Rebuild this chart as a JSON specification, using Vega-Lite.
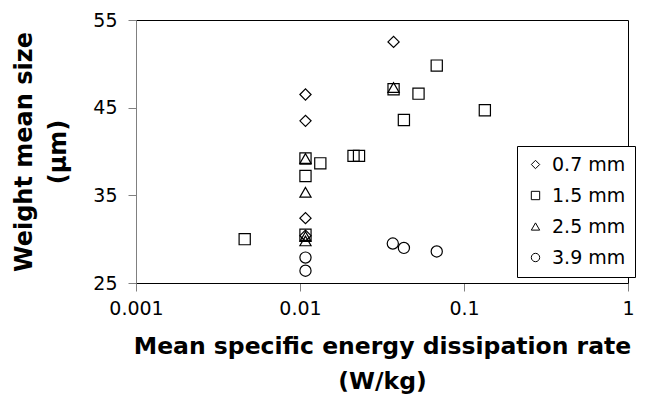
{
  "$schema": "https://vega.github.io/schema/vega-lite/v6.json",
  "width": 492,
  "height": 263,
  "autosize": "none",
  "padding": {"left": 136, "top": 20, "right": 23, "bottom": 118},
  "background": "white",
  "data": {
    "values": [
      {"rate": 0.0108, "size": 46.5, "particle": "0.7 mm"},
      {"rate": 0.0108, "size": 43.5, "particle": "0.7 mm"},
      {"rate": 0.0372, "size": 52.5, "particle": "0.7 mm"},
      {"rate": 0.0108, "size": 32.4, "particle": "0.7 mm"},
      {"rate": 0.0108, "size": 30.4, "particle": "0.7 mm"},
      {"rate": 0.0682, "size": 49.8, "particle": "1.5 mm"},
      {"rate": 0.0372, "size": 47.1, "particle": "1.5 mm"},
      {"rate": 0.0528, "size": 46.6, "particle": "1.5 mm"},
      {"rate": 0.043, "size": 43.6, "particle": "1.5 mm"},
      {"rate": 0.134, "size": 44.7, "particle": "1.5 mm"},
      {"rate": 0.0108, "size": 39.2, "particle": "1.5 mm"},
      {"rate": 0.0133, "size": 38.65, "particle": "1.5 mm"},
      {"rate": 0.0212, "size": 39.5, "particle": "1.5 mm"},
      {"rate": 0.0229, "size": 39.5, "particle": "1.5 mm"},
      {"rate": 0.0108, "size": 37.2, "particle": "1.5 mm"},
      {"rate": 0.0046, "size": 30.0, "particle": "1.5 mm"},
      {"rate": 0.0108, "size": 30.5, "particle": "1.5 mm"},
      {"rate": 0.0372, "size": 47.3, "particle": "2.5 mm"},
      {"rate": 0.0108, "size": 39.2, "particle": "2.5 mm"},
      {"rate": 0.0108, "size": 35.35, "particle": "2.5 mm"},
      {"rate": 0.0108, "size": 30.3, "particle": "2.5 mm"},
      {"rate": 0.0108, "size": 29.8, "particle": "2.5 mm"},
      {"rate": 0.0368, "size": 29.5, "particle": "3.9 mm"},
      {"rate": 0.043, "size": 29.0, "particle": "3.9 mm"},
      {"rate": 0.0682, "size": 28.6, "particle": "3.9 mm"},
      {"rate": 0.0108, "size": 27.9, "particle": "3.9 mm"},
      {"rate": 0.0108, "size": 26.4, "particle": "3.9 mm"}
    ]
  },
  "mark": {"type": "point", "filled": false, "stroke": "black", "strokeWidth": 1.2, "size": 125, "opacity": 1},
  "encoding": {
    "x": {
      "field": "rate",
      "type": "quantitative",
      "scale": {"type": "log", "domain": [0.001, 1]},
      "axis": {
        "values": [0.001, 0.01, 0.1, 1],
        "format": "~g",
        "title": ["Mean specific energy dissipation rate", "(W/kg)"],
        "domainColor": "black",
        "labelPadding": 8,
        "titlePadding": 16,
        "titleLineHeight": 35,
        "titleFontSize": 23.5
      }
    },
    "y": {
      "field": "size",
      "type": "quantitative",
      "scale": {"domain": [25, 55], "nice": false, "zero": false},
      "axis": {
        "values": [25, 35, 45, 55],
        "title": ["Weight mean size", "(µm)"],
        "domainColor": "#808080",
        "labelPadding": 11,
        "titlePadding": 22,
        "titleLineHeight": 34,
        "titleFontSize": 24
      }
    },
    "shape": {
      "field": "particle",
      "type": "nominal",
      "scale": {
        "domain": ["0.7 mm", "1.5 mm", "2.5 mm", "3.9 mm"],
        "range": ["diamond", "square", "triangle-up", "circle"]
      },
      "legend": {
        "title": null,
        "orient": "none",
        "legendX": 381,
        "legendY": 126
      }
    }
  },
  "config": {
    "font": "DejaVu Sans",
    "view": {"stroke": "black", "strokeWidth": 1},
    "axis": {
      "grid": false,
      "tickColor": "#808080",
      "tickSize": 8,
      "tickWidth": 1,
      "domainWidth": 1,
      "labelFont": "DejaVu Sans",
      "labelFontSize": 19,
      "labelColor": "black",
      "labelFlush": false,
      "labelOverlap": false,
      "titleFont": "DejaVu Sans",
      "titleFontWeight": "bold",
      "titleColor": "black"
    },
    "legend": {
      "strokeColor": "black",
      "fillColor": "white",
      "padding": 9,
      "labelFont": "DejaVu Sans",
      "labelFontSize": 19,
      "labelColor": "black",
      "symbolSize": 70,
      "symbolStrokeWidth": 1,
      "symbolStrokeColor": "black",
      "symbolType": "circle",
      "rowPadding": 11,
      "labelOffset": 7
    }
  }
}
